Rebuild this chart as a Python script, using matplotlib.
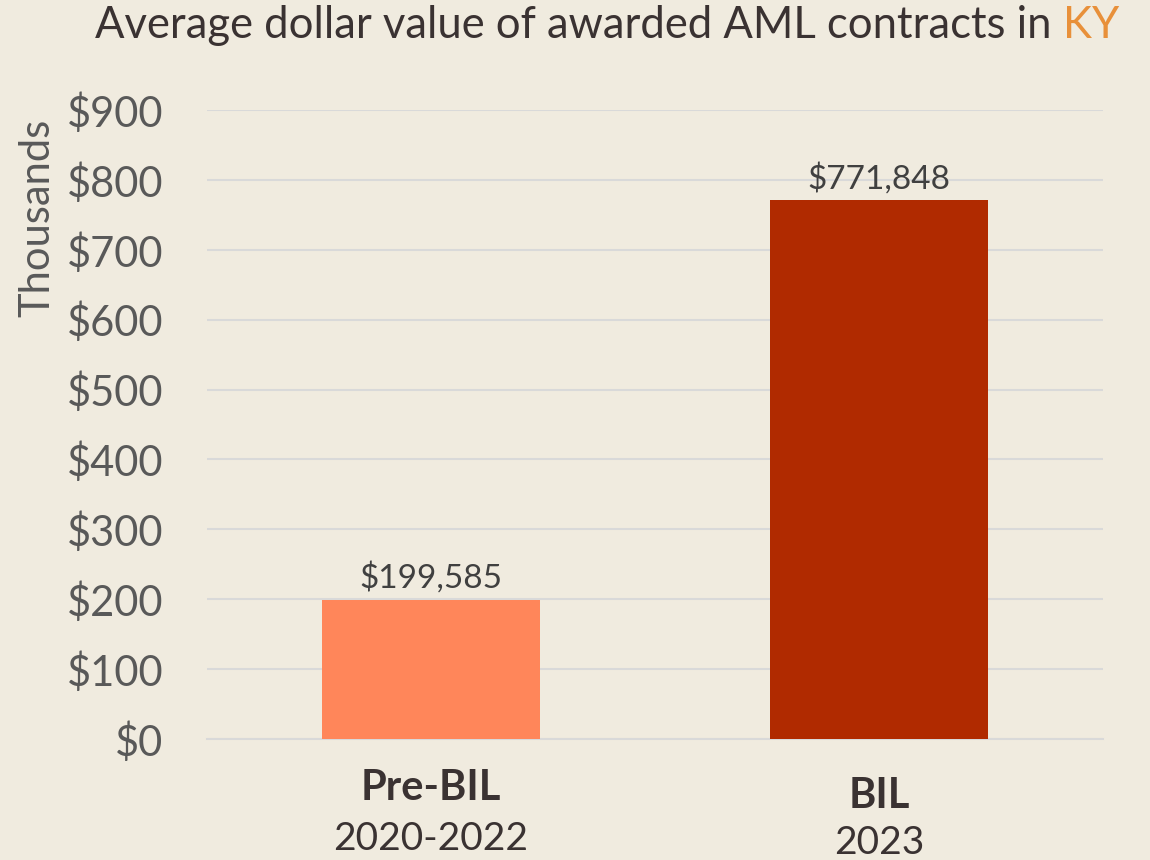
import matplotlib
matplotlib.use("Agg")
import matplotlib.pyplot as plt
from matplotlib.ticker import FuncFormatter
from matplotlib.transforms import blended_transform_factory

categories = ["Pre-BIL", "BIL"]
periods = ["2020-2022", "2023"]
values = [199585, 771848]
bar_colors = ["#FF865A", "#B02A00"]
yticks = [0, 100, 200, 300, 400, 500, 600, 700, 800, 900]

plt.rcParams['font.family'] = ['Lato', 'DejaVu Sans']

BG = "#F0EBDF"
fig = plt.figure(figsize=(11.5, 8.6), dpi=100, facecolor=BG)
ax = fig.add_axes([0.18, 0.1407, 0.779, 0.7313], facecolor=BG)

x = list(range(len(categories)))
vals_k = [v / 1000 for v in values]
ax.bar(x, vals_k, width=0.487, color=bar_colors, zorder=3)
ax.set_xlim(-0.5, 1.5)
ax.set_ylim(0, 900)
ax.set_yticks(yticks)
ax.yaxis.set_major_formatter(FuncFormatter(lambda v, p: f"${v:,.0f}"))
ax.tick_params(axis='y', length=0, labelsize=30, labelcolor="#595959", pad=31.5)
ax.set_xticks([])
ax.grid(axis='y', color="#D9D9D9", linewidth=1.5, zorder=0)
for s in ["top", "right", "left"]:
    ax.spines[s].set_visible(False)
ax.spines["bottom"].set_color("#D9D9D9")
ax.spines["bottom"].set_linewidth(1.5)
ax.set_ylabel("Thousands", fontsize=30, color="#595959")
ax.yaxis.set_label_coords((56 - 207) / 896, (739 - 218) / 629)

for xi, v, vk in zip(x, values, vals_k):
    ax.annotate(f"${v:,.0f}", (xi, vk), xytext=(0, 4), textcoords="offset points",
                ha="center", va="bottom", fontsize=24, color="#404040")

trans = blended_transform_factory(ax.transData, fig.transFigure)
name_y = [1 - 800 / 860, 1 - 808 / 860]
per_y = [1 - 850 / 860, 1 - 854 / 860]
for xi, c, p, ny, py in zip(x, categories, periods, name_y, per_y):
    ax.text(xi, ny, c, transform=trans, ha="center", va="baseline",
            fontsize=30, fontweight="bold", color="#3A3232")
    ax.text(xi, py, p, transform=trans, ha="center", va="baseline",
            fontsize=28, color="#3A3232")

t1 = fig.text(0.083, 1 - 38 / 860, "Average dollar value of awarded AML contracts in ",
              fontsize=31.4, color="#3A3232", ha="left", va="baseline")
fig.canvas.draw()
r = fig.canvas.get_renderer()
bb = t1.get_window_extent(renderer=r)
fig.text(bb.x1 / fig.bbox.width, 1 - 38 / 860, "KY", fontsize=31.4, color="#E8903A",
         ha="left", va="baseline")

fig.savefig("out.png", dpi=100, facecolor=BG)
